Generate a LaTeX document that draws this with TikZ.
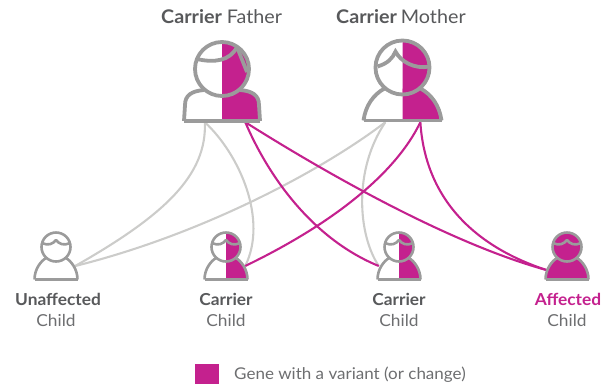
\documentclass[tikz,border=0pt]{standalone}
\usepackage{fontspec}
\setmainfont[FakeStretch=1.05]{Lato}
\usepackage{xcolor}
\usetikzlibrary{positioning}

\definecolor{variant}{HTML}{C4218E}
\definecolor{outline}{HTML}{9B9B9B}
\definecolor{faint}{HTML}{CCCCCA}
\definecolor{caption}{HTML}{58595B}
\definecolor{softcaption}{HTML}{6D6E70}

\tikzset{
  every node/.style={text=caption, inner sep=0pt},
  head/.style={font=\fontsize{18.8}{22}\selectfont, anchor=base},
  who/.style={font=\fontsize{16.5}{19}\selectfont\bfseries, anchor=base},
  role/.style={font=\fontsize{16.5}{19}\selectfont, text=softcaption, anchor=base},
  parent/.style={minimum width=78pt, minimum height=82pt},
  spot/.style={minimum width=40pt, minimum height=48pt},
  fig/.style={line width=2.6pt, draw=outline, line join=round},
  thickfig/.style={line width=3.8pt, draw=outline, line join=miter},
  well/.style={line width=2.1pt, faint},
  sick/.style={line width=2.1pt, variant},
}

% child figure, origin at the centre of the head: #2 left half, #3 right half
\newcommand{\childfig}[3]{
  \begin{scope}[shift={(#1,247)}]
    \def\bodypath{(-21.5,32.5) .. controls (-21.5,22) and (-15,14) .. (-9,11) -- (9,11) .. controls (15,14) and (21.5,22) .. (21.5,32.5) -- cycle}
    \fill[#2] \bodypath; \fill[#2] (0,0) circle (14.5);
    \begin{scope}
      \clip (0,-20) rectangle (30,40);
      \fill[#3] \bodypath; \fill[#3] (0,0) circle (14.5);
    \end{scope}
    \draw[fig] (-21.5,32.5) .. controls (-21.5,22) and (-15,14) .. (-10,11);
    \draw[fig] (21.5,32.5) .. controls (21.5,22) and (15,14) .. (10,11);
    \draw[fig] (-21.5,32.5) -- (21.5,32.5);
    \draw[fig] (0,0) circle (14.5);
    \draw[fig] (-14,-4) .. controls (-8,-1) and (-3,-3) .. (0,-7) .. controls (3,-3) and (8,-1) .. (14,-4);
  \end{scope}
}

\begin{document}
\begin{tikzpicture}[x=1pt,y=-1pt]

  \useasboundingbox (0,0) rectangle (601,384);

  % people
  \node[parent] (father) at (221.5,81) {};
  \node[parent] (mother) at (402,81) {};
  \node[spot] (unaffected) at (55,257) {};
  \node[spot] (carrierA) at (225,257) {};
  \node[spot] (carrierB) at (399,257) {};
  \node[spot] (affected) at (567,257) {};

  % connectors
  \draw[well] (father.-112) .. controls (207,175) and (165,215) .. (unaffected.-24);
  \draw[well] (father.-112) .. controls (240,155) and (268,220) .. (carrierA.-24);
  \draw[well] (mother.-112) .. controls (320,172) and (200,235) .. (unaffected.-24);
  \draw[well] (mother.-112) .. controls (353,170) and (358,235) .. (carrierB.-156);
  \draw[sick] (father.-60) .. controls (270,180) and (315,240) .. (carrierB.-156);
  \draw[sick] (father.-60) .. controls (337,180) and (455,245) .. (affected.-147);
  \draw[sick] (mother.-66) .. controls (395,175) and (330,225) .. (carrierA.-24);
  \draw[sick] (mother.-66) .. controls (425,195) and (470,245) .. (affected.-147);

  % figures
  \begin{scope}[shift={(222,69)}]
    \def\fatherbody{(-38,52) -- (-37,36) .. controls (-37,26) and (-30,22) .. (-16,22) -- (16,22) .. controls (30,22) and (37,26) .. (37,36) -- (38,52) -- cycle}
    \fill[white] \fatherbody; \fill[white] (0,0) circle (27);
    \begin{scope}
      \clip (0,-35) rectangle (50,60);
      \fill[variant] \fatherbody; \fill[variant] (0,0) circle (27);
    \end{scope}
    \draw[thickfig] (-38,52) -- (-37,36) .. controls (-37,26) and (-30,22) .. (-18,21);
    \draw[thickfig] (38,52) -- (37,36) .. controls (37,26) and (30,22) .. (18,21);
    \draw[thickfig] (-38,52) -- (38,52);
    \draw[thickfig] (0,0) circle (27);
    \draw[thickfig] (-25,-10) .. controls (-8,-6) and (8,-8) .. (15,-22);
    \draw[thickfig] (15,-22) -- (25,3);
  \end{scope}
  \begin{scope}[shift={(402.5,67.5)}]
    \def\motherbody{(-39,53) .. controls (-37,38) and (-29,27) .. (-17,21) -- (17,21) .. controls (29,27) and (37,38) .. (39,53) -- cycle}
    \fill[white] \motherbody; \fill[white] (0,0) circle (27);
    \begin{scope}
      \clip (0,-35) rectangle (50,60);
      \fill[variant] \motherbody; \fill[variant] (0,0) circle (27);
    \end{scope}
    \draw[thickfig] (-39,53) .. controls (-37,38) and (-29,27) .. (-18,21);
    \draw[thickfig] (39,53) .. controls (37,38) and (29,27) .. (18,21);
    \draw[thickfig] (-39,53) -- (39,53);
    \draw[thickfig] (0,0) circle (27);
    \draw[thickfig] (-25,-1) .. controls (-15,-4) and (-10,-9) .. (-7,-16) .. controls (-2,-6) and (12,2) .. (27,-1);
  \end{scope}
  \childfig{56}{white}{white}
  \childfig{226}{white}{variant}
  \childfig{399}{white}{variant}
  \childfig{567}{variant}{variant}

  % labels
  \node[head, anchor=base west] (fathertag) at (161,23) {\textbf{Carrier}\hspace{5pt}Father};
  \node[head, anchor=base west] (mothertag) at (336,23) {\textbf{Carrier}\hspace{4pt}Mother};
  \node[who] (unaffectedtag) at (58,305) {Unaffected};
  \node[who] (carrierAtag) at (226,305) {Carrier};
  \node[who] (carrierBtag) at (399,305) {Carrier};
  \node[who, text=variant] (affectedtag) at (568,305) {Affected};
  \node[role] (unaffectedrole) at (56,326) {Child};
  \node[role] (carrierArole) at (226,326) {Child};
  \node[role] (carrierBrole) at (399,326) {Child};
  \node[role] (affectedrole) at (567,326) {Child};

  % key
  \node[fill=variant, minimum width=24pt, minimum height=20pt] (swatch) at (207,374) {};
  \node[role, anchor=base west, font=\fontsize{16.2}{19}\selectfont] (keytext) at (234,379) {Gene with a variant (or change)};
\end{tikzpicture}
\end{document}
